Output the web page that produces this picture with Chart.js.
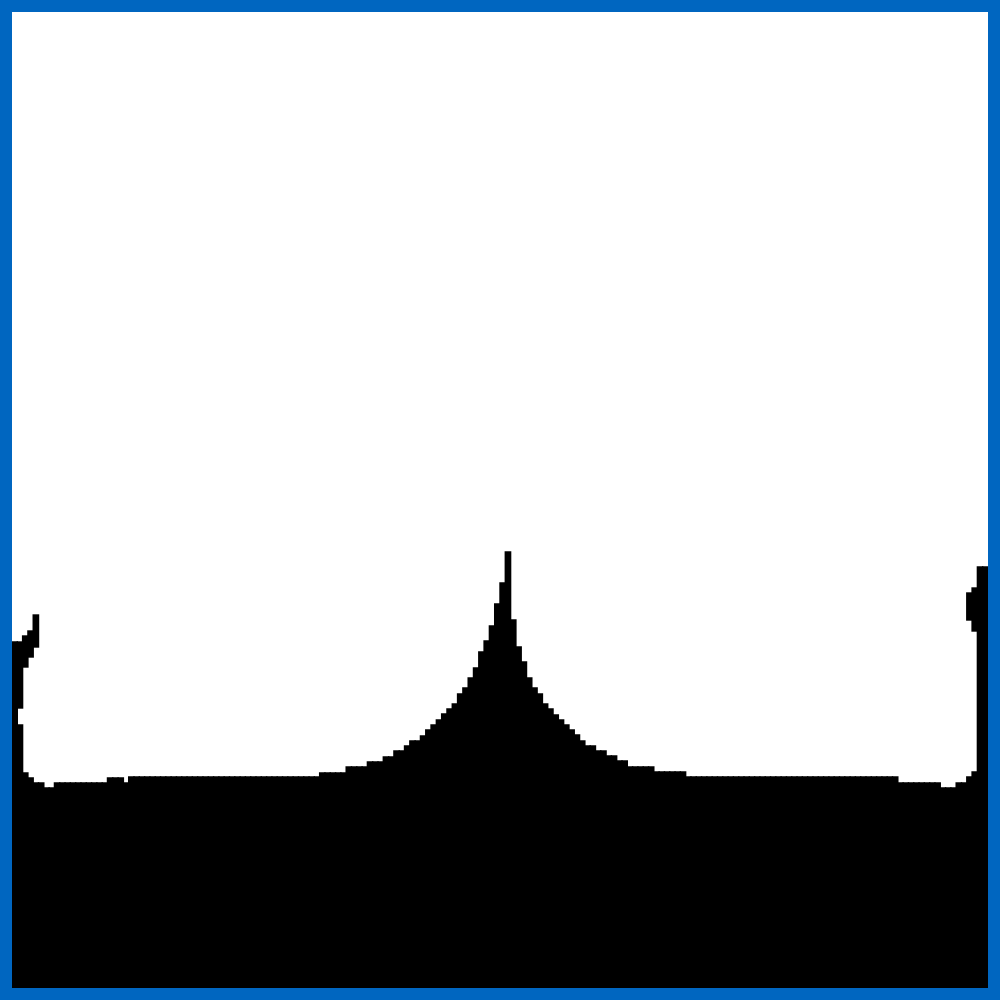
<!DOCTYPE html>
<html>
<head>
<meta charset="utf-8">
<script src="https://cdn.jsdelivr.net/npm/chart.js@4"></script>
<style>
  html, body { margin: 0; padding: 0; background: #0066c0; }
  #frame { position: absolute; left: 0; top: 0; width: 1000px; height: 1000px; background: #0066c0; }
  #box { position: absolute; left: 12px; top: 12px; width: 976px; height: 976px; background: #ffffff; }
</style>
</head>
<body>
<div id="frame"><div id="box"><canvas id="myChart"></canvas></div></div>
<script>
// height of the solid part of every column, measured up from the bottom edge (px)
var baseHeights = [
  346, 263, 215, 210, 205, 205, 200, 200, 205, 205,
  205, 205, 205, 205, 205, 205, 205, 205, 210, 210,
  210, 205, 211, 211, 211, 211, 211, 211, 211, 211,
  211, 211, 211, 211, 211, 211, 211, 211, 211, 211,
  211, 211, 211, 211, 211, 211, 211, 211, 211, 211,
  211, 211, 211, 211, 211, 211, 211, 211, 215, 215,
  215, 215, 215, 221, 221, 221, 221, 226, 226, 226,
  231, 231, 237, 237, 242, 247, 247, 252, 258, 263,
  268, 274, 279, 284, 294, 300, 310, 320, 336, 347,
  362, 384, 405, 436, 368, 341, 326, 310, 300, 294,
  284, 279, 273, 268, 263, 258, 253, 247, 242, 242,
  237, 237, 232, 232, 227, 227, 221, 221, 221, 221,
  221, 216, 216, 216, 216, 216, 216, 211, 211, 211,
  211, 211, 211, 211, 211, 211, 211, 211, 211, 211,
  211, 211, 211, 211, 211, 211, 211, 211, 211, 211,
  211, 211, 211, 211, 211, 211, 211, 211, 211, 211,
  211, 211, 211, 211, 211, 211, 211, 205, 205, 205,
  205, 205, 205, 205, 205, 200, 200, 200, 205, 205,
  211, 216, 421, 421
];

// the detached "hook" pieces at both edges: column, bottom and top (px from bottom)
var hookColumns = [1, 2, 3, 4, 180, 181];
var hookLow     = [280, 321, 331, 341, 368, 357];
var hookHigh    = [346, 352, 357, 373, 395, 400];

var labels = [];
for (var i = 0; i < baseHeights.length; i++) labels.push(String(i));

var hookData = labels.map(function () { return null; });
hookColumns.forEach(function (c, i) {
  hookData[c] = [hookLow[i], hookHigh[i]];
});

var ctx = document.getElementById('myChart').getContext('2d');
var myChart = new Chart(ctx, {
    type: 'bar',
    data: {
        labels: labels,
        datasets: [{
            label: 'base',
            data: baseHeights,
            backgroundColor: '#000000',
            borderWidth: 0
        }, {
            label: 'hooks',
            data: hookData,
            backgroundColor: '#000000',
            borderWidth: 0
        }]
    },
    options: {
        responsive: true,
        maintainAspectRatio: false,
        animation: false,
        layout: { padding: 0 },
        datasets: {
            bar: {
                barPercentage: 1,
                categoryPercentage: 1,
                grouped: false,
                inflateAmount: 0.7
            }
        },
        plugins: {
            legend: { display: false },
            tooltip: { enabled: false },
            title: { display: false }
        },
        scales: {
            x: {
                display: false,
                grid: { display: false }
            },
            y: {
                display: false,
                min: 0,
                max: 976,
                grid: { display: false }
            }
        }
    }
});
</script>
</body>
</html>
